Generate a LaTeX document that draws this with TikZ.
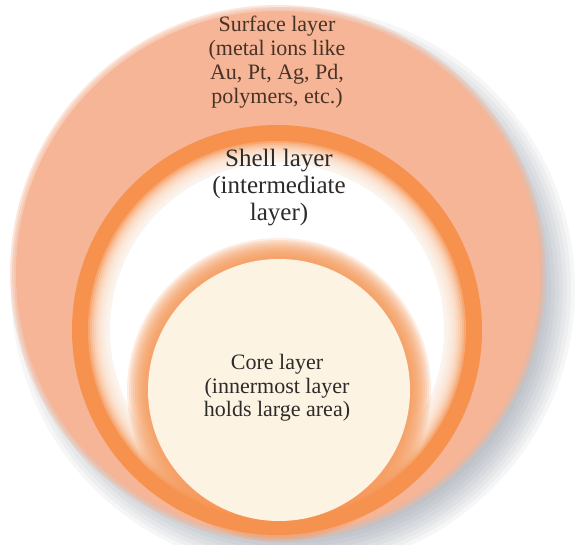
\documentclass[tikz,border=0pt]{standalone}
\usepackage{fontspec}
\setmainfont{Liberation Serif}

\definecolor{surfsalmon}{RGB}{245,181,150}
\definecolor{shellorange}{RGB}{246,146,78}
\definecolor{coreorange}{RGB}{246,150,85}
\definecolor{corecream}{RGB}{252,243,227}
\definecolor{shadowgrey}{RGB}{115,125,140}
\definecolor{txtbrown}{RGB}{72,50,38}
\definecolor{txtgrey}{RGB}{45,43,41}

\begin{document}
\begin{tikzpicture}[x=1pt, y=-1pt,
      lyr/.style={align=center, inner sep=0pt, text=txtgrey}]

    \useasboundingbox (0,0) rectangle (581,545);

    % Centres of the three layers (px, y downwards)
    \coordinate (cShadow) at (293,289);
    \coordinate (cSurf)   at (278,273);
    \coordinate (cShell)  at (277,330);
    \coordinate (cCore)   at (279,390);

    % Soft shadow, lower right
    \foreach \r in {250,254,...,282}
      \fill[shadowgrey, opacity=0.065] (cShadow) circle (\r pt);

    % Surface layer (soft rim)
    \foreach \r in {268,266,264}
      \fill[surfsalmon, opacity=0.35] (cSurf) circle (\r pt);
    \fill[surfsalmon] (cSurf) circle (262pt);

    % Shell layer: orange band, white inside fading into it
    \fill[shellorange] (cShell) circle (205pt);
    \foreach \r in {189,187,...,169}
      \fill[white, opacity=0.2] (cShell) circle (\r pt);
    \fill[white] (cShell) circle (167pt);

    % Core layer with orange halo
    \foreach \r in {152,150,...,134}
      \fill[coreorange, opacity=0.17] (cCore) circle (\r pt);
    \fill[corecream] (cCore) circle (131pt);

    % Labels
    \node[lyr, text=txtbrown, font=\fontsize{22}{24}\selectfont] (surftxt) at (277,62)
      {Surface layer\\(metal ions like\\Au, Pt, Ag, Pd,\\polymers, etc.)};
    \node[lyr, font=\fontsize{25}{27}\selectfont] (shelltxt) at (279,188)
      {Shell layer\\(intermediate\\layer)};
    \node[lyr, font=\fontsize{22}{23.5}\selectfont] (coretxt) at (277,388)
      {Core layer\\(innermost layer\\holds large area)};

\end{tikzpicture}
\end{document}
